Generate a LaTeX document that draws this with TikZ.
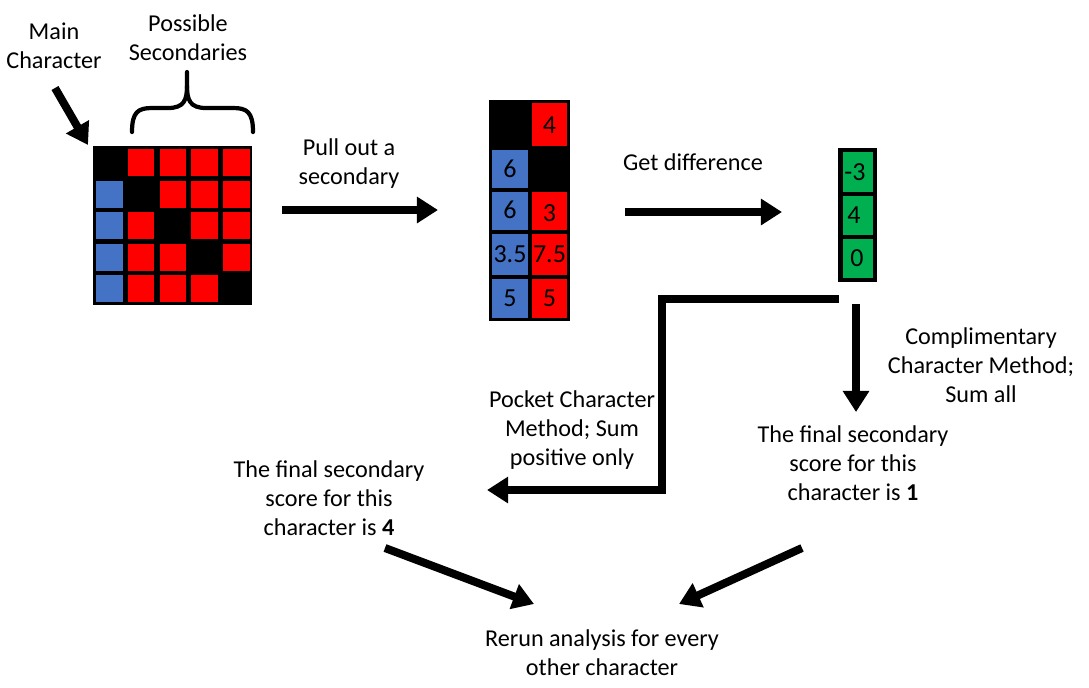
\documentclass[tikz,border=0pt]{standalone}
\usepackage{fontspec}
\setmainfont{Carlito}
\usetikzlibrary{arrows.meta}
\definecolor{cellred}{RGB}{255,0,0}
\definecolor{cellblue}{RGB}{68,114,196}
\definecolor{cellgreen}{RGB}{0,176,80}

\begin{document}
\begin{tikzpicture}[x=0.025cm,y=-0.025cm,
  lbl/.style={align=center,inner sep=0pt,font=\fontsize{17.2}{20.6}\selectfont},
  num/.style={inner sep=0pt,font=\fontsize{18.5}{20}\selectfont},
  fat/.style={line width=5.7pt,-{Triangle[length=15pt,width=18pt]}}]
  \useasboundingbox (0,0) rectangle (1089,687);

  % labels
  \node[lbl] (mainlbl) at (54,46) {Main\\Character};
  \node[lbl] (seclbl) at (188,38) {Possible\\Secondaries};
  \node[lbl] (pulllbl) at (349,164) {Pull out a\\secondary};
  \node[lbl] (difflbl) at (693,162) {Get difference};
  \node[lbl] (complbl) at (981,365) {Complimentary\\Character Method;\\Sum all};
  \node[lbl] (pocketlbl) at (572,430) {Pocket Character\\Method; Sum\\positive only};
  \node[lbl] (finalL) at (329,498) {The final secondary\\score for this\\character is \textbf{4}};
  \node[lbl] (finalR) at (853,463) {The final secondary\\score for this\\character is \textbf{1}};
  \node[lbl] (rerun) at (602,653) {Rerun analysis for every\\other character};

  % full matrix
  \fill[black] (93,146) rectangle (252,305);
  \foreach \r in {0,...,4}{
    \foreach \c in {0,...,4}{
      \ifnum\c=\r\else
        \ifnum\c=0 \def\cellcol{cellblue}\else\def\cellcol{cellred}\fi
        \fill[\cellcol] ({96+31.8*\c},{149+31.6*\r}) rectangle +(26.5,27);
      \fi
    }
  }
  \draw[line width=3pt,line cap=round] (132,132) .. controls (132,112) and (138,108) .. (152,108)
    -- (168,108) .. controls (184,108) and (187,100) .. (187,86) -- (187,72);
  \draw[line width=3pt,line cap=round] (253,132) .. controls (253,112) and (247,108) .. (233,108)
    -- (206,108) .. controls (190,108) and (187,100) .. (187,86);

  % pulled out secondary
  \fill[black] (489,100) rectangle (570,321);
  \fill[cellred] (532,103) rectangle (567,146);
  \fill[cellblue] (492,150) rectangle (528,188);
  \fill[cellblue] (492,192) rectangle (528,230);
  \fill[cellred] (532,192) rectangle (567,230);
  \fill[cellblue] (492,234) rectangle (528,275);
  \fill[cellred] (532,234) rectangle (567,275);
  \fill[cellblue] (492,279) rectangle (528,318);
  \fill[cellred] (532,279) rectangle (567,318);
  \node[num] (r1) at (549.5,125) {4};
  \node[num] (l2) at (510,169) {6};
  \node[num] (l3) at (510,210) {6};
  \node[num] (r3) at (549.5,213) {3};
  \node[num] (l4) at (510,254) {3.5};
  \node[num] (r4) at (549.5,254) {7.5};
  \node[num] (l5) at (510,298) {5};
  \node[num] (r5) at (549.5,298) {5};

  % differences
  \fill[black] (838,148) rectangle (877,282);
  \fill[cellgreen] (843,152) rectangle (873,192);
  \fill[cellgreen] (843,196) rectangle (873,235);
  \fill[cellgreen] (843,239) rectangle (873,278);
  \node[num] (d1) at (855,172) {-3};
  \node[num] (d2) at (854,215) {4};
  \node[num] (d3) at (857,258) {0};

  % arrows
  \coordinate (mainA) at (55,88);
  \coordinate (mainB) at (88,145);
  \coordinate (pullA) at (282,210);
  \coordinate (pullB) at (438,210);
  \coordinate (diffA) at (625,212);
  \coordinate (diffB) at (782,212);
  \coordinate (splitA) at (839,299);
  \coordinate (pocketB) at (487,490);
  \coordinate (compA) at (856,304);
  \coordinate (compB) at (856,412);
  \coordinate (leftA) at (385,548);
  \coordinate (leftB) at (534,604);
  \coordinate (rightA) at (802,548);
  \coordinate (rightB) at (679,604);

  \draw[fat] (mainA) -- (mainB);
  \draw[fat] (pullA) -- (pullB);
  \draw[fat] (diffA) -- (diffB);
  \draw[fat] (splitA) -- (662,299) -- (662,490) -- (pocketB);
  \draw[fat] (compA) -- (compB);
  \draw[fat] (leftA) -- (leftB);
  \draw[fat] (rightA) -- (rightB);
\end{tikzpicture}
\end{document}
